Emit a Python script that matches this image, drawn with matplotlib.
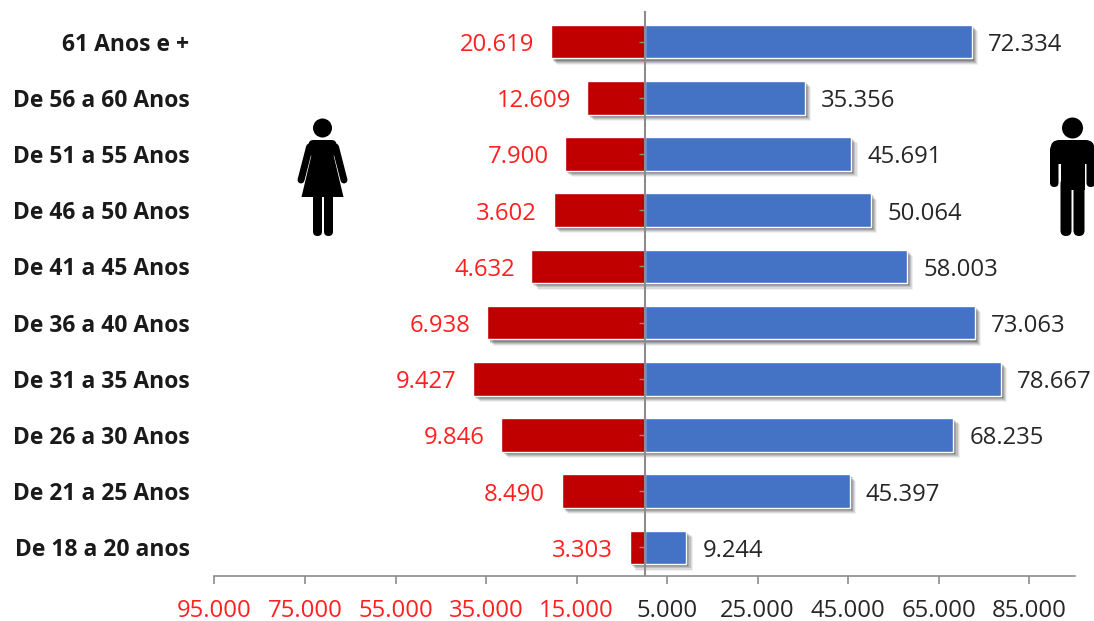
import matplotlib
matplotlib.use("Agg")
import matplotlib.pyplot as plt
import matplotlib.patheffects as pe
from matplotlib.patches import Circle, FancyBboxPatch, Polygon

# Data, top row first
categories = ["61 Anos e +", "De 56 a 60 Anos", "De 51 a 55 Anos", "De 46 a 50 Anos", "De 41 a 45 Anos",
              "De 36 a 40 Anos", "De 31 a 35 Anos", "De 26 a 30 Anos", "De 21 a 25 Anos", "De 18 a 20 anos"]
men = [72334, 35356, 45691, 50064, 58003, 73063, 78667, 68235, 45397, 9244]
# the women's bars do not follow their printed labels in the original
women_bars = [20619, 12609, 17500, 20100, 25000, 34700, 37800, 31600, 18300, 3303]
women_labels = ["20.619", "12.609", "7.900", "3.602", "4.632", "6.938", "9.427", "9.846", "8.490", "3.303"]
men_labels = ["72.334", "35.356", "45.691", "50.064", "58.003", "73.063", "78.667", "68.235", "45.397", "9.244"]
tick_values = [-95000, -75000, -55000, -35000, -15000, 5000, 25000, 45000, 65000, 85000]
tick_labels = ["95.000", "75.000", "55.000", "35.000", "15.000", "5.000", "25.000", "45.000", "65.000", "85.000"]

plt.rcParams['font.family'] = ['Open Sans', 'DejaVu Sans']

W, H = 1094, 621
fig = plt.figure(figsize=(W / 100, H / 100), dpi=100)
ax = fig.add_axes([214.5 / W, 1 - 575.5 / H, 860 / W, 562 / H])

# stacked layers to get a soft looking shadow
shadow = [pe.SimplePatchShadow(offset=(o, -o), shadow_rgbFace="#000000", alpha=a)
          for o, a in [(4.5, 0.06), (3.8, 0.09), (3, 0.12), (2.2, 0.15), (1.5, 0.18)]]
shadow.append(pe.Normal())

y = list(range(len(categories)))
ax.barh(y, [-v for v in women_bars], height=0.6, color="#C00000", edgecolor="white", linewidth=1,
        path_effects=shadow, zorder=2)
ax.barh(y, men, height=0.6, color="#4472C4", edgecolor="white", linewidth=1, path_effects=shadow, zorder=2)

for i in y:
    ax.annotate(women_labels[i], (-women_bars[i], i), xytext=(-12, -2.5), textcoords="offset points",
                ha="right", va="center", color="#FF2020", fontsize=17.2, zorder=4)
    ax.annotate(men_labels[i], (men[i], i), xytext=(11.5, -2.5), textcoords="offset points",
                ha="left", va="center", color="#262626", fontsize=17.2, zorder=4)

ax.set_xlim(-95000, 95000)
ax.set_ylim(len(categories) - 0.5, -0.5)

ax.set_xticks(tick_values)
ax.set_xticklabels(tick_labels, fontsize=17.2)
for lab, v in zip(ax.get_xticklabels(), tick_values):
    lab.set_color("#FF2020" if v < 0 else "#262626")
ax.tick_params(axis="x", direction="out", length=6, width=1.2, color="#8C8C8C", pad=11)

ax.set_yticks(y)
ax.set_yticklabels(categories, fontsize=16.5, fontweight="bold", color="#1a1a1a")
ax.tick_params(axis="y", length=0, pad=18)

for s in ["top", "right", "left"]:
    ax.spines[s].set_visible(False)
ax.spines["bottom"].set_color("#8C8C8C")
ax.spines["bottom"].set_linewidth(1.2)

# vertical axis through zero, small ticks on its right
ax.plot([0, 0], [-0.53, len(categories) - 0.5], color="#8C8C8C", lw=1.5, zorder=3, clip_on=False)
ax.plot([0] * len(y), y, linestyle="none", marker=0, markersize=4, color="#8C8C8C", zorder=3)


# Pictograms in pixel coordinates
ov = fig.add_axes([0, 0, 1, 1], facecolor="none")
ov.set_xlim(0, W)
ov.set_ylim(H, 0)
ov.axis("off")


def Limb(x, y0, w, h):
    ov.add_patch(FancyBboxPatch((x + w / 2, y0 + w / 2), 0, h - w, boxstyle="round,pad=%f" % (w / 2),
                                fc="black", ec="none"))


def Woman(cx):
    ov.add_patch(Circle((cx, 128), 9.5, fc="black", ec="none"))
    ov.add_patch(FancyBboxPatch((cx - 9, 145), 18, 6, boxstyle="round,pad=5", fc="black", ec="none"))
    ov.add_patch(Polygon([(cx - 10, 141), (cx + 10, 141), (cx + 11, 155), (cx + 21, 197),
                          (cx - 21, 197), (cx - 11, 155)], closed=True, fc="black", ec="none"))
    for side in (-1, 1):
        ov.plot([cx + side * 13, cx + side * 21.5], [147, 180], color="black", lw=5, solid_capstyle="round")
    Limb(cx - 9.5, 192, 9, 44)
    Limb(cx + 1.5, 192, 9, 44)


def Man(cx):
    ov.add_patch(Circle((cx, 128), 10.5, fc="black", ec="none"))
    ov.add_patch(FancyBboxPatch((cx - 13, 149), 26, 6, boxstyle="round,pad=9", fc="black", ec="none"))
    Limb(cx - 22.5, 146, 8.5, 41)
    Limb(cx + 14, 146, 8.5, 41)
    ov.add_patch(Polygon([(cx - 12, 146), (cx + 12, 146), (cx + 12, 190), (cx - 12, 190)], fc="black", ec="none"))
    Limb(cx - 12, 178, 11, 58)
    Limb(cx + 1, 178, 11, 58)


Woman(322.5)
Man(1072.5)

fig.savefig("out.png", dpi=100, facecolor="white")
